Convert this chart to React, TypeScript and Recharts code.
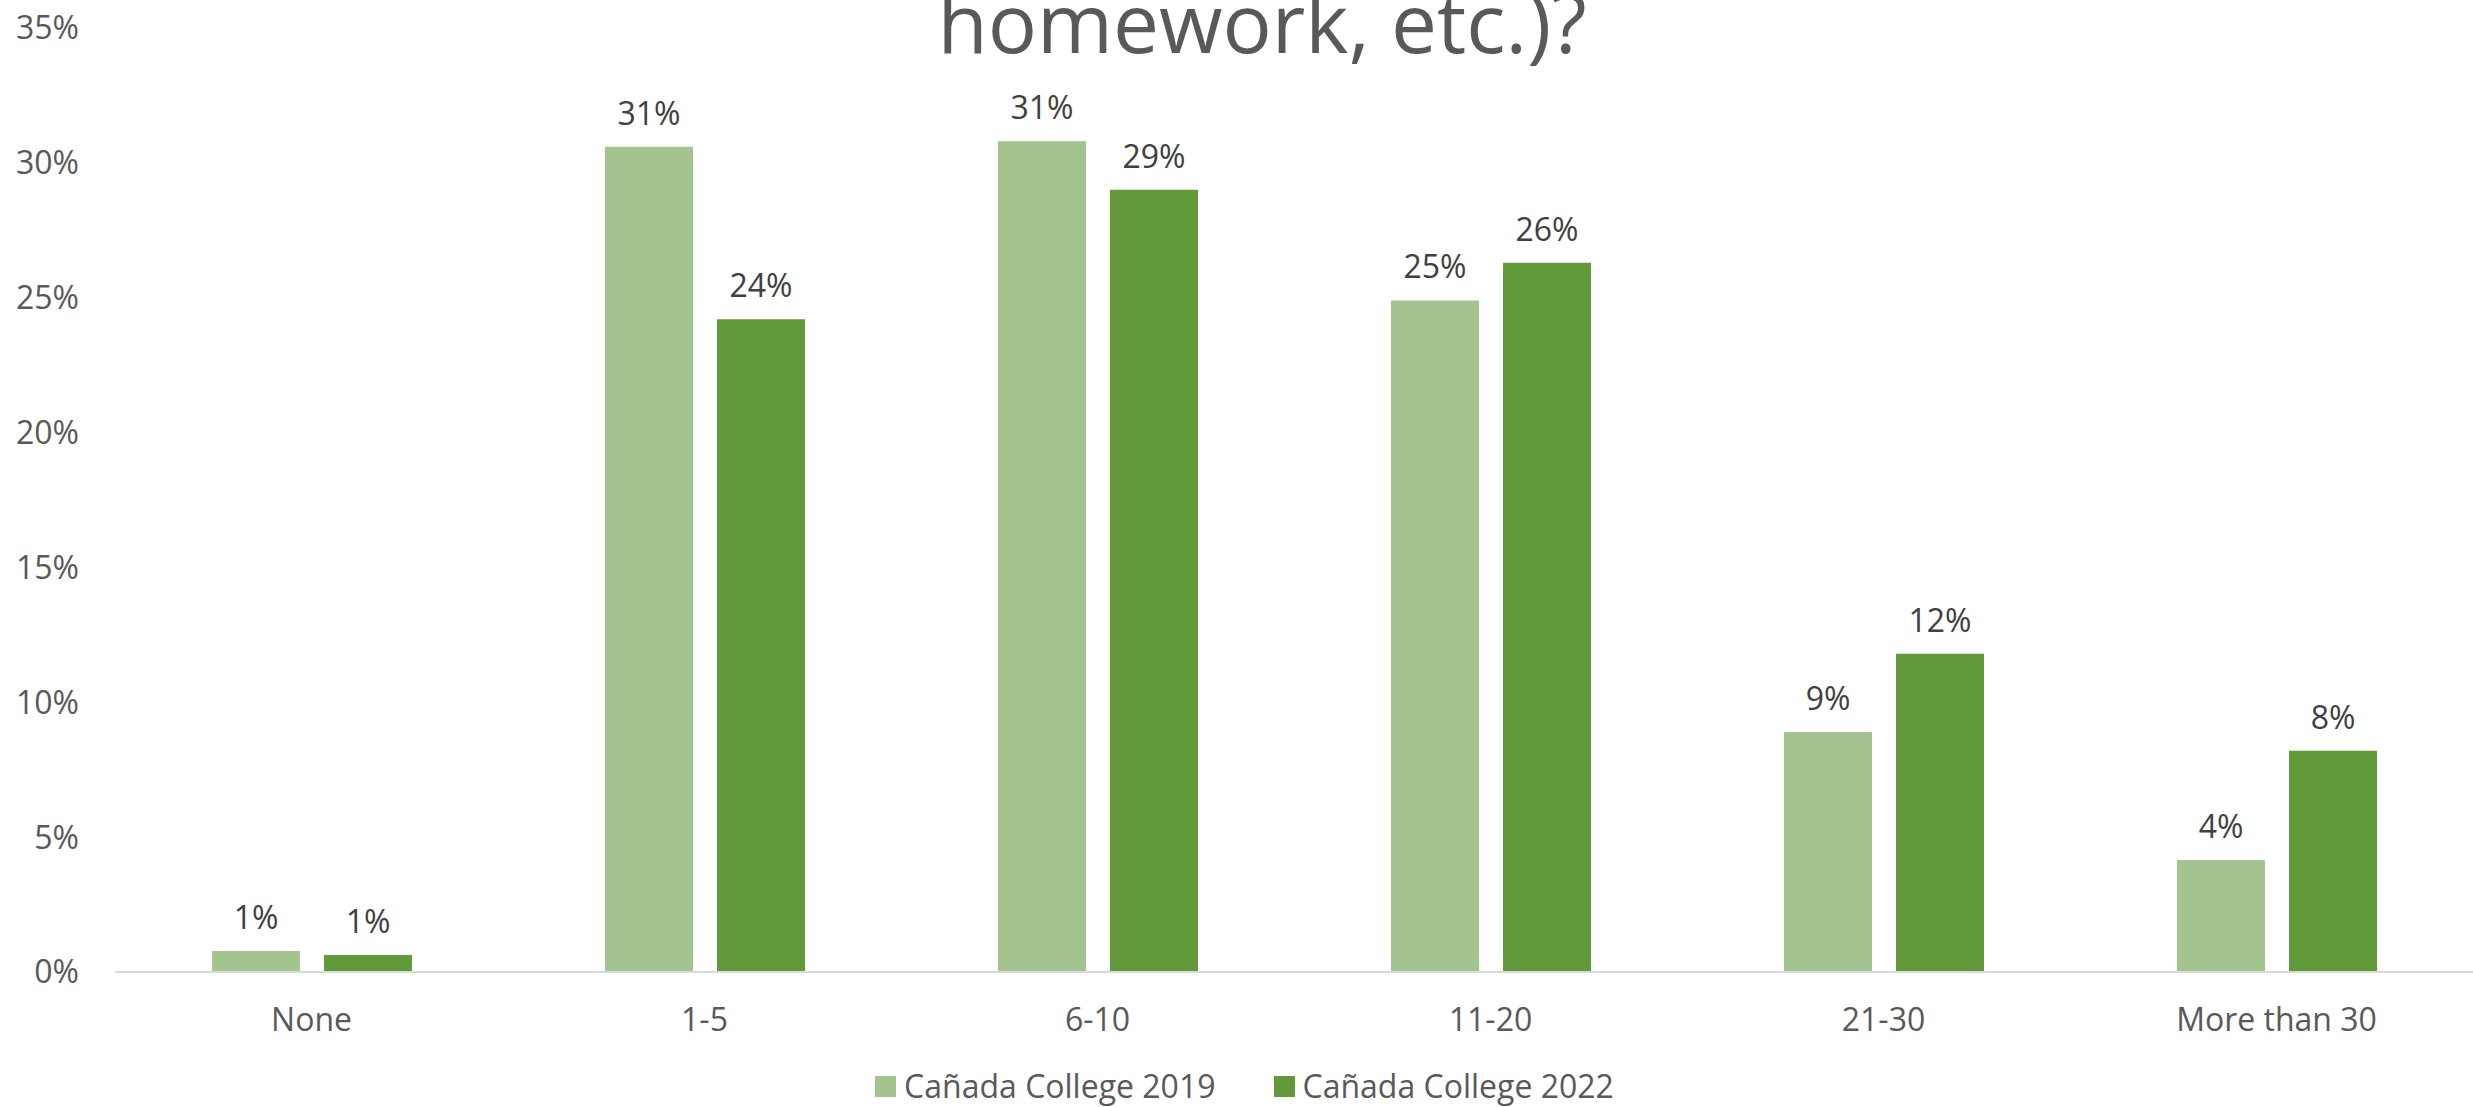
import React from "react";
import { Bar, BarChart, LabelList, Legend, XAxis, YAxis } from "recharts";

// hours per week spent on coursework outside class, share of respondents (%)
const categories = ["None", "1-5", "6-10", "11-20", "21-30", "More than 30"];
const college2019 = [0.78, 30.6, 30.8, 24.9, 8.9, 4.15];
const college2022 = [0.63, 24.2, 29.0, 26.3, 11.8, 8.2];
const yTicks = [0, 5, 10, 15, 20, 25, 30, 35];

const SERIES = [
  { key: "c2019", name: "Cañada College 2019", color: "#A3C48F" },
  { key: "c2022", name: "Cañada College 2022", color: "#62993B" },
];

const FONT = "'Open Sans', 'Liberation Sans', sans-serif";
const AXIS_TEXT = "#595959";
const LABEL_TEXT = "#404040";

const data = categories.map((name, i) => ({
  name,
  c2019: college2019[i],
  c2022: college2022[i],
}));

function LegendRow() {
  return (
    <div style={{ height: 60, width: 2473, fontFamily: FONT, paddingTop: 21, boxSizing: "border-box" }}>
      <div
        style={{
          height: 36,
          display: "flex",
          alignItems: "center",
          justifyContent: "center",
          paddingLeft: 16,
          gap: 58,
        }}
      >
        {SERIES.map((s) => (
          <div key={s.key} style={{ display: "flex", alignItems: "center", gap: 8 }}>
            <span style={{ width: 21, height: 21, background: s.color, display: "inline-block" }} />
            <span style={{ fontSize: 32, color: AXIS_TEXT, lineHeight: "34px" }}>{s.name}</span>
          </div>
        ))}
      </div>
    </div>
  );
}

export default function App() {
  return (
    <div
      style={{
        position: "absolute",
        left: 0,
        top: 0,
        width: 2473,
        height: 1107,
        overflow: "hidden",
        background: "#fff",
      }}
    >
      <BarChart
        width={2473}
        height={1107}
        data={data}
        margin={{ top: 28, right: 0, left: 0, bottom: 0 }}
        barGap={24}
        style={{ fontFamily: FONT }}
      >
        <XAxis
          dataKey="name"
          height={75}
          tickSize={0}
          tickMargin={36}
          tickLine={false}
          axisLine={{ stroke: "#D9D9D9", strokeWidth: 2 }}
          tick={{ fill: AXIS_TEXT, fontSize: 32 }}
          interval={0}
        />
        <YAxis
          width={115}
          domain={[0, 35]}
          ticks={yTicks}
          tickSize={0}
          tickMargin={36}
          tickLine={false}
          axisLine={false}
          tickFormatter={(v) => `${v}%`}
          tick={{ fill: AXIS_TEXT, fontSize: 32 }}
        />
        <Legend verticalAlign="bottom" wrapperStyle={{ left: 0, width: 2473 }} content={() => <LegendRow />} />
        {SERIES.map((s) => (
          <Bar key={s.key} dataKey={s.key} name={s.name} fill={s.color} barSize={88} isAnimationActive={false}>
            <LabelList
              dataKey={s.key}
              position="top"
              offset={22}
              formatter={(v) => `${Math.round(Number(v))}%`}
              style={{ fill: LABEL_TEXT, fontSize: 32, fontFamily: FONT }}
            />
          </Bar>
        ))}
      </BarChart>
      <svg width={2473} height={1107} style={{ position: "absolute", left: 0, top: 0, pointerEvents: "none" }}>
        <text x={1262} y={53} textAnchor="middle" fontSize={82} fill={AXIS_TEXT} fontFamily={FONT}>
          homework, etc.)?
        </text>
      </svg>
    </div>
  );
}
